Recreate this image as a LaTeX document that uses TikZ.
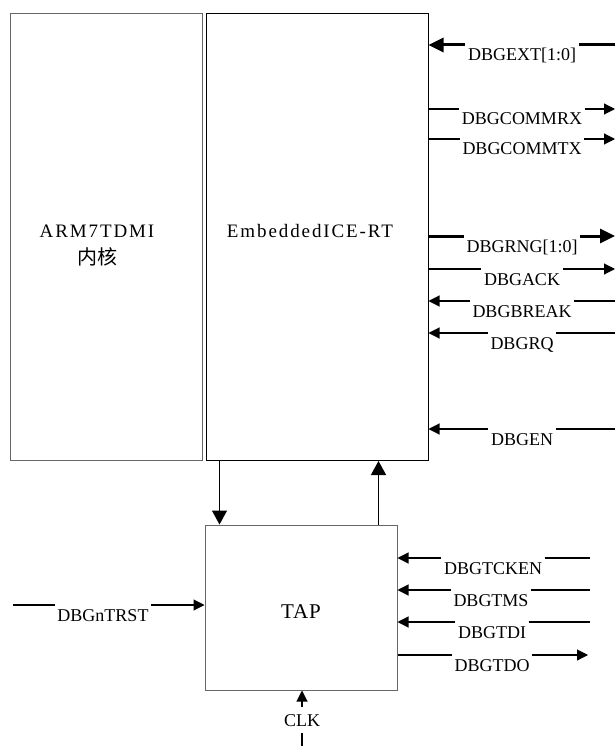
\documentclass[tikz,border=0pt]{standalone}
\usepackage{fontspec}
\setmainfont{Liberation Serif}
\newfontfamily\cjk{Noto Sans CJK SC}
\usetikzlibrary{arrows.meta}

\begin{document}
\begin{tikzpicture}[
    x=1pt, y=-1pt,
    box/.style={rectangle, draw, line width=1pt, inner sep=0pt},
    title/.style={font=\fontsize{19}{27}\selectfont\addfontfeature{LetterSpace=10}, align=center},
    sig/.style={anchor=base, inner xsep=2.5pt, inner ysep=1pt, font=\fontsize{18}{20}\selectfont},
    wire/.style={line width=1.1pt},
    arrow/.style={wire, -{Triangle[length=11pt, width=11pt]}},
    bus/.style={line width=3pt},
    busarrow/.style={bus, -{Triangle[length=15pt, width=14pt]}},
    link/.style={line width=1.3pt, -{Triangle[length=14pt, width=15pt]}},
]
    \useasboundingbox (0,0) rectangle (615,746);

    \node[box, draw=black!60, minimum width=192pt, minimum height=447pt] (arm) at (106,237) {};
    \node[box, minimum width=222pt, minimum height=447pt] (emb) at (317,237) {};
    \node[box, draw=black!60, minimum width=192pt, minimum height=165pt] (tap) at (301,607.5) {};

    \node[title] (armlbl) at (97,246) {ARM7TDMI\\ {\cjk\fontsize{20}{27}\selectfont 内核}};
    \node[title] (emblbl) at (310,231) {EmbeddedICE-RT};
    \node[font=\fontsize{21}{24}\selectfont\addfontfeature{LetterSpace=4}] (taplbl) at (301,612) {TAP};

    \coordinate (dn) at ([xshift=15pt]tap.north west);
    \coordinate (up) at ([xshift=-19pt]tap.north east);
    \draw[link] (emb.south -| dn) -- (dn);
    \draw[link] (up) -- (emb.south -| up);

    % EmbeddedICE-RT signals
    \coordinate (extO) at (615,45);
    \node[sig] (ext) at (522,61) {DBGEXT[1:0]};
    \draw[busarrow] (ext.west |- extO) -- (emb.east |- extO);
    \draw[bus] (ext.east |- extO) -- (extO);

    \coordinate (rxO) at (615,109);
    \node[sig] (rx) at (522,125) {DBGCOMMRX};
    \draw[wire] (emb.east |- rxO) -- (rx.west |- rxO);
    \draw[arrow] (rx.east |- rxO) -- (rxO);

    \coordinate (txO) at (615,139);
    \node[sig] (tx) at (522,155) {DBGCOMMTX};
    \draw[wire] (emb.east |- txO) -- (tx.west |- txO);
    \draw[arrow] (tx.east |- txO) -- (txO);

    \coordinate (rngO) at (615,236);
    \node[sig] (rng) at (522,252) {DBGRNG[1:0]};
    \draw[bus] (emb.east |- rngO) -- (rng.west |- rngO);
    \draw[busarrow] (rng.east |- rngO) -- (rngO);

    \coordinate (ackO) at (615,269);
    \node[sig] (ack) at (522,285) {DBGACK};
    \draw[wire] (emb.east |- ackO) -- (ack.west |- ackO);
    \draw[arrow] (ack.east |- ackO) -- (ackO);

    \coordinate (brkO) at (615,301);
    \node[sig] (brk) at (522,317) {DBGBREAK};
    \draw[arrow] (brk.west |- brkO) -- (emb.east |- brkO);
    \draw[wire] (brk.east |- brkO) -- (brkO);

    \coordinate (rqO) at (615,333);
    \node[sig] (rq) at (522,349) {DBGRQ};
    \draw[arrow] (rq.west |- rqO) -- (emb.east |- rqO);
    \draw[wire] (rq.east |- rqO) -- (rqO);

    \coordinate (enO) at (615,429);
    \node[sig] (en) at (522,445) {DBGEN};
    \draw[arrow] (en.west |- enO) -- (emb.east |- enO);
    \draw[wire] (en.east |- enO) -- (enO);

    % TAP signals
    \coordinate (tckO) at (590,558);
    \node[sig] (tck) at (493,574) {DBGTCKEN};
    \draw[arrow] (tck.west |- tckO) -- (tap.east |- tckO);
    \draw[wire] (tck.east |- tckO) -- (tckO);

    \coordinate (tmsO) at (590,590);
    \node[sig] (tms) at (491,606) {DBGTMS};
    \draw[arrow] (tms.west |- tmsO) -- (tap.east |- tmsO);
    \draw[wire] (tms.east |- tmsO) -- (tmsO);

    \coordinate (tdiO) at (590,622);
    \node[sig] (tdi) at (492,638) {DBGTDI};
    \draw[arrow] (tdi.west |- tdiO) -- (tap.east |- tdiO);
    \draw[wire] (tdi.east |- tdiO) -- (tdiO);

    \coordinate (tdoO) at (588,655);
    \node[sig] (tdo) at (492,671) {DBGTDO};
    \draw[wire] (tap.east |- tdoO) -- (tdo.west |- tdoO);
    \draw[arrow] (tdo.east |- tdoO) -- (tdoO);

    \coordinate (trstO) at (13,605);
    \node[sig] (trst) at (103,621) {DBGnTRST};
    \draw[wire] (trstO) -- (trst.west |- trstO);
    \draw[arrow] (trst.east |- trstO) -- (tap.west |- trstO);

    \coordinate (clkO) at (302,746);
    \node[font=\fontsize{18}{20}\selectfont, text height=12pt, text depth=0pt, inner xsep=2pt, inner ysep=7pt] (clk) at (302,720) {CLK};
    \draw[arrow] (clk.north) -- (clk.north |- tap.south);
    \draw[wire] (clk.south) -- (clkO);
\end{tikzpicture}
\end{document}
